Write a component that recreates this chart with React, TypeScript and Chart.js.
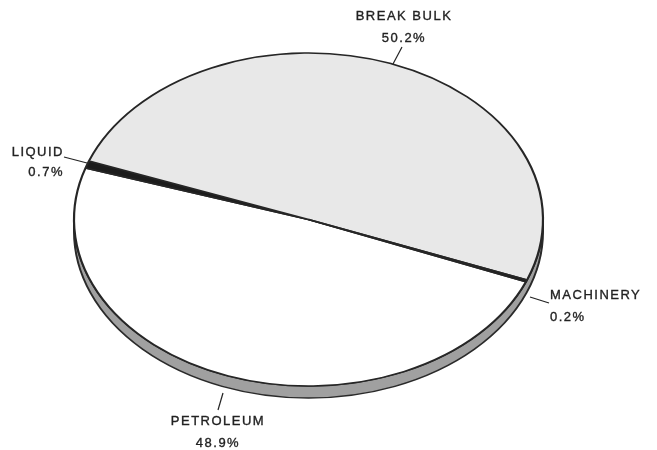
import React, { useEffect, useRef } from 'react';
import { Chart, registerables } from 'chart.js';

Chart.register(...registerables);

// ---- data ----
const categories = ['PETROLEUM', 'LIQUID', 'BREAK BULK', 'MACHINERY'];
const shares = [48.9, 0.7, 50.2, 0.2];
const shareLabels = ['48.9%', '0.7%', '50.2%', '0.2%'];
const sliceColors = ['#ffffff', '#1c1c1c', '#e8e8e8', '#1c1c1c'];

// ---- layout ----
const W = 657;
const H = 450;
const CX = 308.5;
const CY = 219.5;
const RX = 234.5;
const RY = 166.5;
const K = RY / RX;
const DEPTH = 12;

type LabelSpec = {
  align: CanvasTextAlign;
  x: number;
  nameY: number;
  pctY: number;
  line: [number, number, number, number];
};

const labelLayout: Record<string, LabelSpec> = {
  'BREAK BULK': { align: 'center', x: 404, nameY: 16, pctY: 38, line: [402, 47, 393, 64] },
  LIQUID: { align: 'right', x: 64, nameY: 152, pctY: 172, line: [64, 157, 87, 163] },
  MACHINERY: { align: 'left', x: 550, nameY: 295, pctY: 317, line: [530, 297, 549, 303] },
  PETROLEUM: { align: 'center', x: 218, nameY: 421, pctY: 443, line: [223, 393, 218, 410] },
};

const squashPlugin = {
  id: 'squash',
  beforeDatasetDraw(chart: any) {
    const ctx: CanvasRenderingContext2D = chart.ctx;
    const arc: any = chart.getDatasetMeta(0).data[0];
    const x = arc.x;
    const y = arc.y;
    const r = arc.outerRadius;
    ctx.save();
    ctx.translate(x, y);
    ctx.scale(1, K);
    ctx.translate(-x, -y);
    // side wall of the disc
    const off = DEPTH / K;
    ctx.beginPath();
    ctx.moveTo(x + r, y);
    ctx.arc(x, y, r, 0, Math.PI, false);
    ctx.lineTo(x - r, y + off);
    ctx.arc(x, y + off, r, Math.PI, 0, true);
    ctx.closePath();
    ctx.fillStyle = '#a0a0a0';
    ctx.fill();
    ctx.lineWidth = 2;
    ctx.strokeStyle = '#2a2a2a';
    ctx.stroke();
  },
  afterDatasetDraw(chart: any) {
    chart.ctx.restore();
  },
};

const labelPlugin = {
  id: 'pieLabels',
  afterDraw(chart: any) {
    const ctx: CanvasRenderingContext2D = chart.ctx;
    ctx.save();
    ctx.font = '13px "Liberation Sans", Arial, sans-serif';
    (ctx as any).letterSpacing = '1.5px';
    ctx.fillStyle = '#222222';
    ctx.strokeStyle = '#222222';
    ctx.textBaseline = 'middle';
    categories.forEach((name, i) => {
      const spec = labelLayout[name];
      if (!spec) return;
      ctx.textAlign = spec.align;
      ctx.lineWidth = 0.35;
      ctx.fillText(name, spec.x, spec.nameY);
      ctx.strokeText(name, spec.x, spec.nameY);
      ctx.fillText(shareLabels[i], spec.x, spec.pctY);
      ctx.strokeText(shareLabels[i], spec.x, spec.pctY);
      const [x1, y1, x2, y2] = spec.line;
      ctx.lineWidth = 1.2;
      ctx.beginPath();
      ctx.moveTo(x1, y1);
      ctx.lineTo(x2, y2);
      ctx.stroke();
    });
    ctx.restore();
  },
};

export default function App() {
  const ref = useRef<HTMLCanvasElement | null>(null);

  useEffect(() => {
    document.body.style.margin = '0';
    document.body.style.background = '#ffffff';
    const canvas = ref.current;
    if (!canvas) return;
    const chart = new Chart(canvas, {
      type: 'pie',
      data: {
        labels: categories,
        datasets: [
          {
            data: shares,
            backgroundColor: sliceColors,
            borderColor: '#262626',
            borderWidth: 2.2,
            radius: RX,
            rotation: 112,
            clip: false,
          } as any,
        ],
      },
      options: {
        responsive: false,
        animation: false,
        events: [],
        rotation: 112,
        layout: { padding: { left: 0, right: W - 2 * CX, top: 0, bottom: H - 2 * CY } },
        plugins: {
          legend: { display: false },
          tooltip: { enabled: false },
          title: { display: false },
        },
      } as any,
      plugins: [squashPlugin, labelPlugin],
    });
    return () => chart.destroy();
  }, []);

  return (
    <div style={{ width: W, height: H, background: '#ffffff' }}>
      <canvas ref={ref} width={W} height={H} style={{ display: 'block', width: W, height: H }} />
    </div>
  );
}
